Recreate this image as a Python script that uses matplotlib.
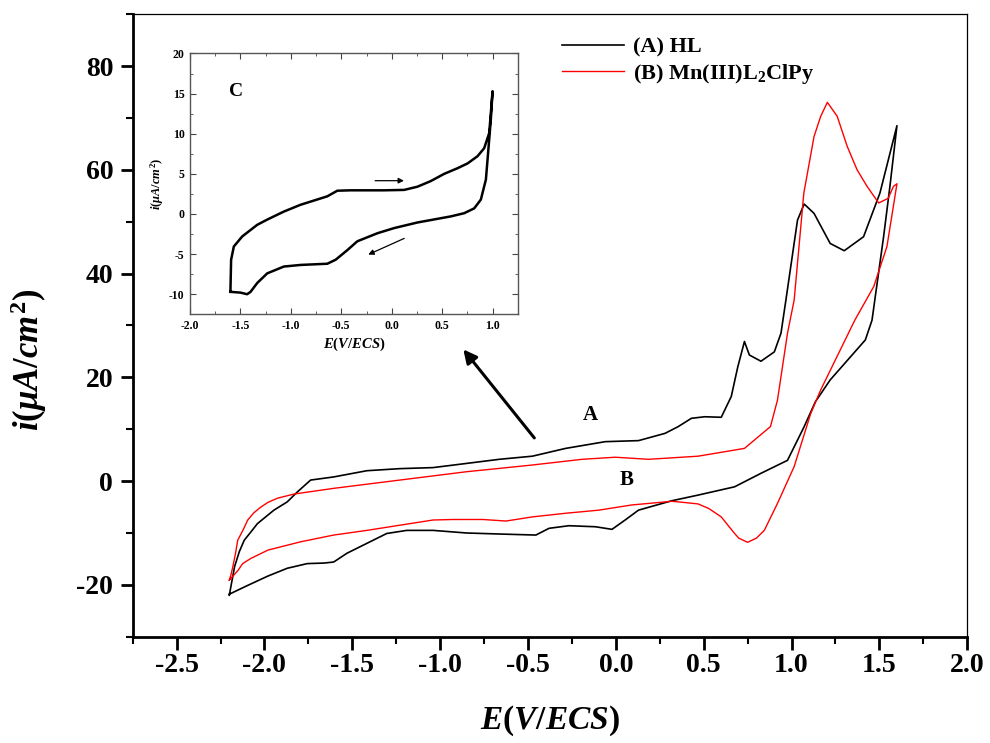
import matplotlib
matplotlib.use("Agg")
import matplotlib.pyplot as plt
from matplotlib.ticker import MultipleLocator

# curve A (HL): forward sweep from -2.2 V to 1.6 V, then back
hl_E = [-2.2, -2.17, -2.143, -2.115, -2.077, -2.04, -1.946, -1.87, -1.813, -1.737,
        -1.606, -1.417, -1.229, -1.04, -0.851, -0.663, -0.475, -0.286, -0.06, 0.129,
        0.28, 0.355, 0.43, 0.506, 0.60, 0.657, 0.694, 0.732, 0.76, 0.826,
        0.902, 0.94, 0.968, 1.034, 1.072, 1.128, 1.22, 1.30, 1.41, 1.503, 1.6,
        1.56, 1.524, 1.458, 1.42, 1.22, 1.136, 1.072, 0.977, 0.826, 0.676, 0.468,
        0.317, 0.129, 0.053, -0.022, -0.116, -0.267, -0.38, -0.455, -0.663, -0.851,
        -1.04, -1.19, -1.304, -1.417, -1.53, -1.606, -1.662, -1.756, -1.87, -1.98,
        -2.095, -2.2]
hl_i = [-22.0, -16.5, -13.6, -11.4, -9.8, -8.2, -5.6, -4.0, -2.1, 0.2,
        0.8, 2.0, 2.4, 2.6, 3.4, 4.2, 4.8, 6.3, 7.6, 7.8,
        9.2, 10.5, 12.1, 12.4, 12.3, 16.3, 22.0, 26.9, 24.3, 23.1,
        24.9, 28.5, 34.9, 50.3, 53.4, 51.6, 45.8, 44.4, 47.1, 55.5, 68.5,
        56.8, 47.1, 31.0, 27.2, 19.5, 15.3, 10.5, 4.0, 1.5, -1.1, -2.7,
        -3.8, -5.6, -7.5, -9.3, -8.8, -8.6, -9.1, -10.4, -10.2, -10.0,
        -9.5, -9.5, -10.1, -12.0, -13.9, -15.6, -15.8, -15.9, -16.8, -18.3,
        -20.1, -21.8]

# curve B (Mn(III)L2ClPy)
mn_E = [-2.2, -2.19, -2.18, -2.165, -2.152, -2.12, -2.095, -2.06, -2.02, -1.98,
        -1.926, -1.832, -1.606, -1.229, -0.851, -0.475, -0.192, -0.003, 0.186, 0.468,
        0.732, 0.88, 0.92, 0.977, 1.015, 1.07, 1.128, 1.166, 1.204, 1.26,
        1.317, 1.373, 1.43, 1.496, 1.55, 1.58, 1.6,
        1.543, 1.468, 1.36, 1.165, 1.109, 1.015, 0.92, 0.845, 0.80, 0.75, 0.70,
        0.676, 0.60, 0.53, 0.468, 0.355, 0.317, 0.091, -0.097, -0.286, -0.475,
        -0.625, -0.757, -0.927, -1.04, -1.229, -1.417, -1.606, -1.794, -1.98, -2.077,
        -2.124, -2.15, -2.2]
mn_i = [-19.1, -18.0, -16.5, -14.0, -11.4, -9.3, -7.5, -6.1, -5.0, -4.1,
        -3.3, -2.5, -1.4, 0.2, 1.8, 3.1, 4.2, 4.6, 4.2, 4.8,
        6.3, 10.5, 15.6, 28.5, 34.9, 55.5, 66.4, 70.3, 73.0, 70.3,
        64.5, 60.0, 56.8, 53.6, 54.5, 56.8, 57.3,
        45.2, 37.5, 31.0, 17.5, 13.0, 2.8, -4.3, -9.5, -11.0, -11.8, -11.0,
        -10.1, -6.9, -5.3, -4.4, -4.0, -3.9, -4.6, -5.6, -6.2, -6.9,
        -7.7, -7.4, -7.4, -7.5, -8.5, -9.5, -10.4, -11.7, -13.3, -14.9,
        -15.9, -17.2, -19.1]

# inset curve C
c_E = [-1.6, -1.593, -1.566, -1.483, -1.334, -1.235, -1.07, -0.904, -0.639, -0.54,
       -0.407, -0.076, 0.123, 0.255, 0.387, 0.52, 0.652, 0.752, 0.851, 0.917,
       0.967, 1.0, 0.983, 0.934, 0.884, 0.818, 0.719, 0.586, 0.255, 0.023,
       -0.142, -0.341, -0.44, -0.556, -0.639, -0.904, -1.07, -1.235, -1.334, -1.4,
       -1.434, -1.5, -1.6]
c_i = [-9.7, -5.7, -4.05, -2.8, -1.35, -0.7, 0.3, 1.15, 2.2, 2.9,
       2.95, 2.95, 3.0, 3.4, 4.1, 5.0, 5.7, 6.3, 7.2, 8.2,
       10.1, 15.3, 11.8, 4.3, 1.8, 0.7, 0.1, -0.3, -1.06, -1.76,
       -2.4, -3.4, -4.5, -5.7, -6.2, -6.35, -6.55, -7.4, -8.6, -9.7,
       -10.0, -9.8, -9.7]

serif = ["Liberation Serif", "DejaVu Serif"]
plt.rcParams["font.family"] = serif
plt.rcParams["font.weight"] = "bold"
plt.rcParams["axes.unicode_minus"] = False
plt.rcParams["mathtext.fontset"] = "custom"
plt.rcParams["mathtext.rm"] = "Liberation Serif:bold"
plt.rcParams["mathtext.bf"] = "Liberation Serif:bold"
plt.rcParams["mathtext.it"] = "Liberation Serif:bold:italic"

fig = plt.figure(figsize=(9.9, 7.43), dpi=100)
ax = fig.add_axes([0.134, 0.143, 0.843, 0.838])

ax.plot(hl_E, hl_i, color="black", lw=1.2, label="(A) HL")
ax.plot(mn_E, mn_i, color="red", lw=1.0, label=r"(B) Mn(III)L$_2$ClPy")

ax.set_xlim(-2.75, 2.0)
ax.set_ylim(-30, 90)
ax.xaxis.set_major_locator(MultipleLocator(0.5))
ax.xaxis.set_minor_locator(MultipleLocator(0.25))
ax.yaxis.set_major_locator(MultipleLocator(20))
ax.yaxis.set_minor_locator(MultipleLocator(10))
ax.xaxis.set_major_formatter(plt.FuncFormatter(lambda v, p: f"{v:.1f}"))
ax.tick_params(which="major", direction="out", length=9, width=2, labelsize=20, pad=5)
ax.tick_params(axis="x", which="major", pad=3)
ax.tick_params(which="minor", direction="out", length=5, width=1.5)
for s in ("left", "bottom"):
    ax.spines[s].set_linewidth(2.0)
for s in ("top", "right"):
    ax.spines[s].set_linewidth(0.9)
for lab in ax.get_xticklabels() + ax.get_yticklabels():
    lab.set_fontweight("bold")

ax.set_xlabel(r"$\mathit{E(V/ECS)}$", fontsize=24)
ax.set_ylabel(r"$\mathit{i(\mu A/cm^{2})}$", fontsize=25)
ax.xaxis.set_label_coords(0.5, -0.108)
ax.yaxis.set_label_coords(-0.1, 0.445)

ax.text(-0.143, 12.7, "A", fontsize=15, fontweight="bold", ha="center", va="center")
ax.text(0.061, 0.2, "B", fontsize=15, fontweight="bold", ha="center", va="center")
ax.annotate("", xy=(-0.878, 25.8), xytext=(-0.454, 7.9),
            arrowprops=dict(arrowstyle="-|>", lw=2.2, color="black", mutation_scale=20))

leg = ax.legend(loc="upper left", bbox_to_anchor=(0.49, 0.995), frameon=False,
                prop={"family": serif, "weight": "bold", "size": 16},
                handlelength=2.8, handletextpad=0.4, labelspacing=0.2)

# inset
axi = fig.add_axes([0.192, 0.577, 0.331, 0.351])
axi.plot(c_E, c_i, color="black", lw=1.8)
axi.set_xlim(-2.0, 1.25)
axi.set_ylim(-12.5, 20)
axi.xaxis.set_major_locator(MultipleLocator(0.5))
axi.xaxis.set_minor_locator(MultipleLocator(0.25))
axi.yaxis.set_major_locator(MultipleLocator(5))
axi.yaxis.set_minor_locator(MultipleLocator(2.5))
axi.xaxis.set_major_formatter(plt.FuncFormatter(lambda v, p: f"{v:.1f}"))
axi.tick_params(which="both", direction="in", top=True, right=True, color="#444444")
axi.tick_params(which="major", length=4, width=0.8, labelsize=8.5, pad=4)
axi.tick_params(which="minor", length=2, width=0.6)
for s in axi.spines.values():
    s.set_linewidth(1.0)
    s.set_color("#555555")
for lab in axi.get_xticklabels() + axi.get_yticklabels():
    lab.set_fontweight("bold")
axi.set_xlabel(r"$\mathit{E(V/ECS)}$", fontsize=10.5, labelpad=3)
axi.set_ylabel(r"$\mathit{i(\mu A/cm^{2})}$", fontsize=9, labelpad=2)
axi.text(-1.54, 15.3, "C", fontsize=14, fontweight="bold", ha="center", va="center")
axi.annotate("", xy=(0.149, 4.15), xytext=(-0.192, 4.15),
             arrowprops=dict(arrowstyle="-|>", lw=0.9, color="black", mutation_scale=8))
axi.annotate("", xy=(-0.258, -5.2), xytext=(0.149, -2.9),
             arrowprops=dict(arrowstyle="-|>", lw=0.9, color="black", mutation_scale=8))

fig.savefig("out.png", dpi=100)
